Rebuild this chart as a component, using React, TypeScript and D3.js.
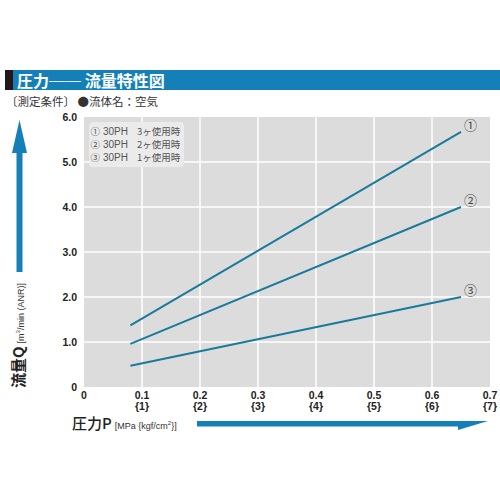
import { line, scaleLinear } from 'd3'

// 圧力 P (MPa) and 流量 Q (m³/min ANR)
const pressureTicks = [0, 0.1, 0.2, 0.3, 0.4, 0.5, 0.6, 0.7]
const kgfTicks = ['', '{1}', '{2}', '{3}', '{4}', '{5}', '{6}', '{7}']
const flowTicks = [0, 1, 2, 3, 4, 5, 6]

const seriesMarks = ['①', '②', '③']
const legendModel = ['30PH', '30PH', '30PH']
const legendUse = ['3ヶ使用時', '2ヶ使用時', '1ヶ使用時']
const pressureSpan = [0.08, 0.65]
const flowAtStart = [1.37, 0.96, 0.47]
const flowAtEnd = [5.67, 4.0, 2.0]

const width = 500
const height = 500
const plot = { left: 84, right: 490, top: 117, bottom: 387 }

const blue = '#1580b8'
const lineBlue = '#1a7a9c'
const numFont = '"Liberation Sans Narrow", "Liberation Sans", Arial, sans-serif'
const sansFont = '"Liberation Sans", Arial, sans-serif'
const jpFont = '"Noto Sans CJK JP", "Noto Sans", sans-serif'

const x = scaleLinear().domain([0, 0.7]).range([plot.left, plot.right])
const y = scaleLinear().domain([0, 6]).range([plot.bottom, plot.top])

type Pt = { p: number; q: number }
const path = line<Pt>()
  .x((d) => x(d.p))
  .y((d) => y(d.q))

const series = seriesMarks.map((mark, i) => ({
  mark,
  points: [
    { p: pressureSpan[0], q: flowAtStart[i] },
    { p: pressureSpan[1], q: flowAtEnd[i] },
  ],
}))

const App = () => {
  return (
    <div style={{ position: 'fixed', left: 0, top: 0, background: 'white' }}>
      <svg width={width} height={height} viewBox={`0 0 ${width} ${height}`}>
        <rect width={width} height={height} fill="white" />

        {/* title bar */}
        <rect x={5} y={70} width={495} height={20} fill={blue} />
        <rect x={5} y={70} width={8} height={20} fill="#231815" />
        <text x={17} y={86.5} fill="white" fontFamily={jpFont} fontWeight={700} fontSize={16}>
          圧力── 流量特性図
        </text>
        <text x={6} y={106} fill="#333" fontFamily={jpFont} fontSize={11.5}>
          〔測定条件〕 ●流体名：空気
        </text>

        {/* plot background */}
        <rect
          x={plot.left}
          y={plot.top}
          width={plot.right - plot.left}
          height={plot.bottom - plot.top}
          fill="#dcdcdc"
        />
        {flowTicks.slice(1, -1).map((t) => (
          <line key={`h${t}`} x1={plot.left} x2={plot.right} y1={y(t)} y2={y(t)} stroke="white" strokeWidth={1.5} />
        ))}
        {pressureTicks.slice(1, -1).map((t) => (
          <line key={`v${t}`} x1={x(t)} x2={x(t)} y1={plot.top} y2={plot.bottom} stroke="white" strokeWidth={1.5} />
        ))}

        {/* legend */}
        <rect x={89} y={122} width={95} height={45} rx={4} fill="#ebebeb" />
        {seriesMarks.map((mark, i) => (
          <g key={mark} transform={`translate(0,${134.5 + i * 13})`} fill="#555" fontSize={9.5}>
            <text x={90.5} fontFamily={jpFont}>{mark}</text>
            <text x={103} fontFamily={sansFont} fontSize={10}>{legendModel[i]}</text>
            <text x={137} fontFamily={jpFont}>{legendUse[i]}</text>
          </g>
        ))}

        {/* series */}
        {series.map((s) => {
          const end = s.points[1]
          return (
            <g key={s.mark}>
              <path d={path(s.points) ?? ''} fill="none" stroke={lineBlue} strokeWidth={2} />
              <text
                x={x(end.p) + 3}
                y={y(end.q) - 2}
                fill="#444"
                fontFamily={jpFont}
                fontSize={13}
              >
                {s.mark}
              </text>
            </g>
          )
        })}

        {/* y ticks */}
        {flowTicks.map((t) => (
          <text
            key={`yt${t}`}
            x={77}
            y={y(t) + 3.5}
            textAnchor="end"
            fill="#222"
            fontFamily={numFont}
            fontWeight={700}
            fontSize={10.5}
          >
            {t === 0 ? '0' : t.toFixed(1)}
          </text>
        ))}

        {/* x ticks */}
        {pressureTicks.map((t, i) => (
          <g key={`xt${t}`} transform={`translate(${x(t)},0)`}>
            <text y={399} textAnchor="middle" fill="#222" fontFamily={numFont} fontWeight={700} fontSize={10.5}>
              {t === 0 ? '0' : t.toFixed(1)}
            </text>
            <text y={410} textAnchor="middle" fill="#222" fontFamily={numFont} fontWeight={700} fontSize={10.5}>
              {kgfTicks[i]}
            </text>
          </g>
        ))}

        {/* y axis arrow */}
        <rect x={16.5} y={150} width={6} height={122} fill={blue} />
        <path d="M19.5,120 L27,153 L12,153 Z" fill={blue} />
        <g transform="translate(24,388) rotate(-90)">
          <text fill="#222" fontFamily={jpFont}>
            <tspan fontSize={15} fontWeight={700}>流量Q</tspan>
            <tspan fontSize={9} dx={3} fill="#333" fontFamily={numFont}>[m</tspan>
            <tspan fontSize={6} dy={-4} fill="#333" fontFamily={numFont}>3</tspan>
            <tspan fontSize={9} dy={4} fill="#333" fontFamily={numFont}>/min (ANR)]</tspan>
          </text>
        </g>

        {/* x axis arrow */}
        <text x={72} y={429} fill="#222" fontFamily={jpFont}>
          <tspan fontSize={15} fontWeight={500}>圧力P</tspan>
          <tspan fontSize={9} dx={3} fill="#333" fontFamily={numFont}>[MPa {'{'}kgf/cm</tspan>
          <tspan fontSize={6} dy={-4} fill="#333" fontFamily={numFont}>2</tspan>
          <tspan fontSize={9} dy={4} fill="#333" fontFamily={numFont}>{'}'}]</tspan>
        </text>
        <path d="M197,421 L488,421 L458,430 L458,426.5 L197,426.5 Z" fill={blue} />
      </svg>
    </div>
  )
}

export default App
